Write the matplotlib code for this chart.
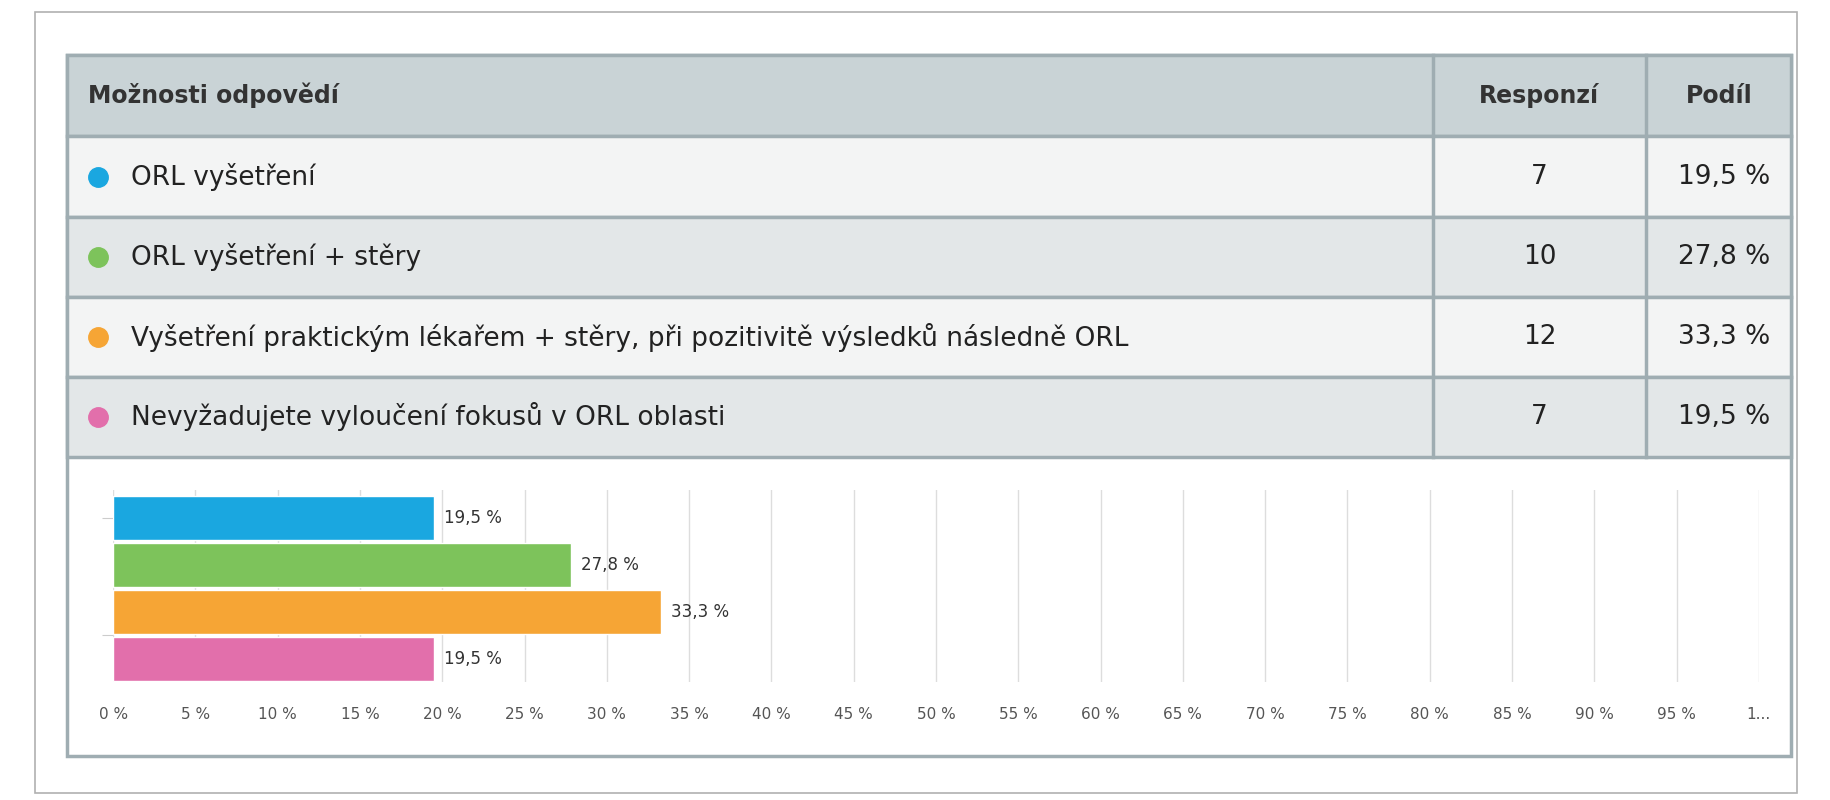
import matplotlib.pyplot as plt
from matplotlib.patches import Rectangle

plt.rcParams['font.family'] = ['Liberation Sans Narrow', 'DejaVu Sans']

options = ['ORL vyšetření', 'ORL vyšetření + stěry',
           'Vyšetření praktickým lékařem + stěry, při pozitivitě výsledků následně ORL',
           'Nevyžadujete vyloučení fokusů v ORL oblasti']
responses = [7, 10, 12, 7]
shares = [19.5, 27.8, 33.3, 19.5]
colors = ['#1aa7e0', '#7dc35b', '#f6a535', '#e26fab']
headers = ['Možnosti odpovědí', 'Responzí', 'Podíl']

W, H = 1568, 686
fig = plt.figure(figsize=(18.3, 8), dpi=100)


def fx(x):
    return x / W


def fy(y):
    return 1 - y / H


def box(x0, y0, x1, y1, fc, ec='none', lw=0):
    fig.patches.append(Rectangle((fx(x0), fy(y1)), fx(x1) - fx(x0), fy(y0) - fy(y1),
                                 transform=fig.transFigure, fc=fc, ec=ec, lw=lw, zorder=0))


# outer frame and table
box(30, 10, 1540, 680, 'white', '#b0b0b0', 1.2)
box(57, 47, 1535, 648, 'white', '#9fadb2', 2.5)
box(57, 47, 1535, 117, '#c9d3d6', '#9fadb2', 2.5)
row_y = [117, 186, 255, 323, 392]
row_bg = ['#f3f4f4', '#e3e7e8', '#f3f4f4', '#e3e7e8']
for i in range(4):
    box(57, row_y[i], 1535, row_y[i + 1], row_bg[i], '#9fadb2', 2.5)
for xs in (1228, 1410):
    fig.add_artist(plt.Line2D([fx(xs)] * 2, [fy(47), fy(392)], color='#9fadb2', lw=2.5,
                              transform=fig.transFigure))

fig.text(fx(75), fy(82), headers[0], fontsize=17, fontweight='bold', color='#333', va='center')
fig.text(fx(1319), fy(82), headers[1], fontsize=17, fontweight='bold', color='#333', va='center', ha='center')
fig.text(fx(1473), fy(82), headers[2], fontsize=17, fontweight='bold', color='#333', va='center', ha='center')
for i in range(4):
    yc = (row_y[i] + row_y[i + 1]) / 2
    fig.add_artist(plt.Line2D([fx(84)], [fy(yc)], marker='o', ms=14, color=colors[i],
                              transform=fig.transFigure))
    fig.text(fx(112), fy(yc), options[i], fontsize=19, color='#222', va='center')
    fig.text(fx(1319), fy(yc), str(responses[i]), fontsize=19, color='#222', va='center', ha='center')
    fig.text(fx(1517), fy(yc), f'{shares[i]:.1f} %'.replace('.', ','), fontsize=19,
             color='#222', va='center', ha='right')

# bar chart
ax = fig.add_axes([fx(97), fy(585), fx(1507) - fx(97), fy(420) - fy(585)], zorder=5)
ax.patch.set_alpha(0)
ypos = list(range(len(shares)))
ax.barh(ypos, shares, height=0.94, color=colors, edgecolor='white', lw=1, zorder=3)
for y, v in zip(ypos, shares):
    ax.text(v + 0.6, y, f'{v:.1f} %'.replace('.', ','), va='center', fontsize=12, color='#333')
ax.set_xlim(0, 100)
ax.set_ylim(3.5, -0.6)
ticks = list(range(0, 100, 5))
ax.set_xticks(ticks + [100])
ax.set_xticklabels([f'{t} %' for t in ticks] + ['1...'], fontsize=11, color='#555')
ax.set_yticks([0, 2.5])
ax.set_yticklabels([])
ax.tick_params(axis='x', length=0, pad=18)
ax.tick_params(axis='y', length=8, color='#ccc')
ax.grid(axis='x', color='#dddddd', lw=1)
for s in ax.spines.values():
    s.set_visible(False)

fig.savefig('out.png', dpi=100)
